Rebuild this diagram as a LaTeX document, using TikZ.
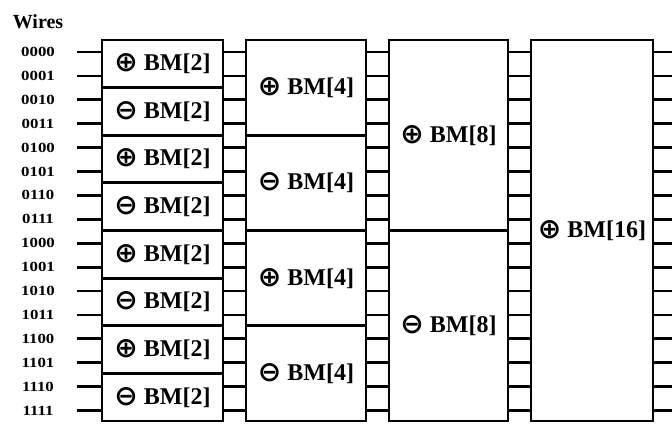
\documentclass[tikz,border=0pt]{standalone}
\usepackage{fontspec}
\setmainfont{Liberation Serif}
\newfontfamily\symfont{DejaVu Sans}
\newcommand\pl{{\symfont\bfseries\fontsize{28}{28}\selectfont\raisebox{-1pt}{⊕}}}
\newcommand\mi{{\symfont\bfseries\fontsize{28}{28}\selectfont\raisebox{-1pt}{⊖}}}
\begin{document}
\begin{tikzpicture}[x=1pt,y=-1pt,
  box/.style={draw,line width=2.8pt,inner sep=0pt,
    font=\fontsize{24}{26}\selectfont\bfseries},
  stub/.style={line width=2.8pt},
  lab/.style={font=\fontsize{14}{15}\selectfont\bfseries,inner sep=0pt}]
\useasboundingbox (0,0) rectangle (672,439);
\def\h{47.625}
% column 1
\foreach \k/\s in {1/\pl,2/\mi,3/\pl,4/\mi,5/\pl,6/\mi,7/\pl,8/\mi}{
  \pgfmathsetmacro\cy{40+\h*(\k-0.5)}
  \node[box,minimum width=121pt,minimum height=\h pt] (A\k) at (162.5,\cy) {\s\ BM[2]};
}
% column 2
\foreach \k/\s in {1/\pl,2/\mi,3/\pl,4/\mi}{
  \pgfmathsetmacro\cy{40+2*\h*(\k-0.5)}
  \node[box,minimum width=120pt,minimum height=2*\h pt] (B\k) at (306,\cy) {\s\ BM[4]};
}
% column 3
\foreach \k/\s in {1/\pl,2/\mi}{
  \pgfmathsetmacro\cy{40+4*\h*(\k-0.5)}
  \node[box,minimum width=119pt,minimum height=4*\h pt] (C\k) at (448.5,\cy) {\s\ BM[8]};
}
% column 4
\node[box,minimum width=122pt,minimum height=8*\h pt] (D1) at (592,230.5) {\pl\ BM[16]};
% title
\node[font=\fontsize{20}{20}\selectfont\bfseries,inner sep=0pt] (title) at (38,22) {Wires};
% wires
\foreach \b [count=\j from 0] in {0000,0001,0010,0011,0100,0101,0110,0111,1000,1001,1010,1011,1100,1101,1110,1111}{
  \pgfmathsetmacro\wy{52+23.9*\j}
  \pgfmathtruncatemacro\ka{floor(\j/2)+1}
  \pgfmathtruncatemacro\kb{floor(\j/4)+1}
  \pgfmathtruncatemacro\kc{floor(\j/8)+1}
  \node[lab] (L\j) at (38,\wy) {\scalebox{1.2}[1]{\b}};
  \coordinate (s\j) at (77,\wy);
  \coordinate (e\j) at (672,\wy);
  \draw[stub] (s\j) -- (A\ka.west |- s\j);
  \draw[stub] (A\ka.east |- s\j) -- (B\kb.west |- s\j);
  \draw[stub] (B\kb.east |- s\j) -- (C\kc.west |- s\j);
  \draw[stub] (C\kc.east |- s\j) -- (D1.west |- s\j);
  \draw[stub] (D1.east |- s\j) -- (e\j);
}
\end{tikzpicture}
\end{document}
